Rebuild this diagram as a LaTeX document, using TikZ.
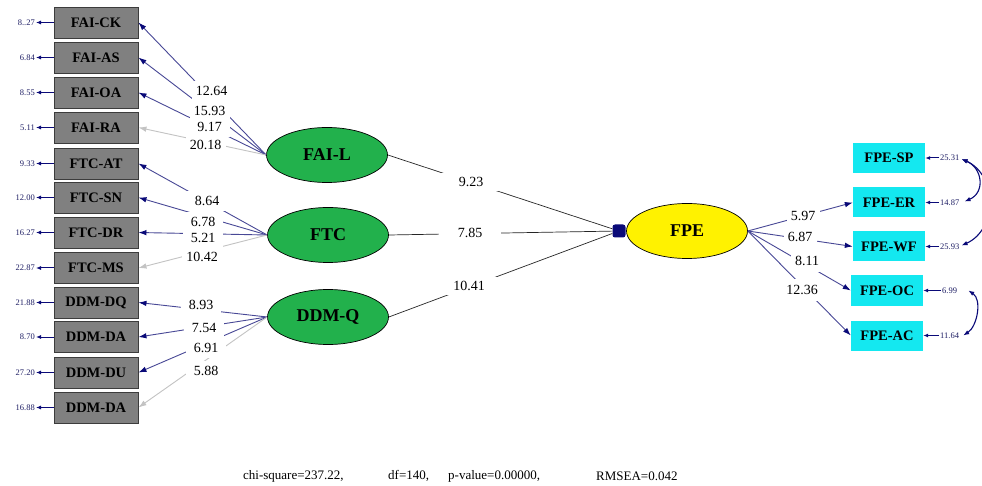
\documentclass[tikz,border=0pt]{standalone}
\usepackage{fontspec}
\setmainfont{Liberation Serif}
\usetikzlibrary{arrows.meta,shapes.geometric}

\definecolor{boxgray}{RGB}{128,128,128}
\definecolor{edgegray}{RGB}{60,60,60}
\definecolor{latgreen}{RGB}{34,177,76}
\definecolor{fpecyan}{RGB}{20,232,240}
\definecolor{loadblue}{RGB}{72,72,150}
\definecolor{tipnavy}{RGB}{10,10,120}
\definecolor{refgray}{RGB}{195,195,195}
\definecolor{errtext}{RGB}{30,30,100}

\begin{document}
\begin{tikzpicture}[x=1pt,y=-1pt,
  obs/.style={rectangle, fill=boxgray, draw=edgegray, line width=0.9pt,
    minimum width=84pt, minimum height=31pt, inner sep=0pt,
    font=\fontsize{14.5}{16}\selectfont\bfseries},
  fpeobs/.style={rectangle, fill=fpecyan, minimum width=72pt, minimum height=30pt,
    inner sep=0pt, font=\fontsize{14.5}{16}\selectfont\bfseries},
  latent/.style={ellipse, fill=latgreen, draw=black, line width=0.7pt,
    minimum width=121pt, minimum height=55pt, inner sep=0pt,
    font=\fontsize{18}{20}\selectfont\bfseries},
  load/.style={draw=loadblue, line width=0.9pt, -{Latex[length=8pt,width=5.5pt,color=tipnavy]}},
  refload/.style={draw=refgray, line width=0.9pt, -{Latex[length=8pt,width=5.5pt]}},
  structline/.style={draw=black!85, line width=0.7pt},
  % coefficient labels blank out the part of the line they sit on
  coef/.style={fill=white, inner sep=0pt, font=\fontsize{14}{16}\selectfont},
  lcoef/.style={coef, minimum width=40pt, minimum height=20pt},
  mcoef/.style={coef, minimum width=62pt, minimum height=18pt},
  rcoef/.style={coef, minimum width=33pt, minimum height=22pt},
  errl/.style={anchor=east, inner sep=1pt, text=errtext, font=\fontsize{8.5}{9}\selectfont},
  errr/.style={anchor=west, inner sep=1pt, text=errtext, font=\fontsize{8.5}{9}\selectfont},
  errarrow/.style={draw=tipnavy, line width=1pt, -{Latex[length=5pt,width=4pt]}},
  corr/.style={draw=tipnavy, line width=1.1pt,
    {Latex[length=6pt,width=4.5pt]}-{Latex[length=6pt,width=4.5pt]}},
  fitstat/.style={anchor=west, inner sep=0pt, font=\fontsize{13}{14}\selectfont},
]
\useasboundingbox[fill=white] (0,0) rectangle (982,486);

% observed indicators, left column
\node[obs] (fck)  at (96,22.5)  {FAI-CK};
\node[obs] (fas)  at (96,57.5)  {FAI-AS};
\node[obs] (foa)  at (96,92.5)  {FAI-OA};
\node[obs] (fra)  at (96,127.5) {FAI-RA};
\node[obs] (tat)  at (96,163.5) {FTC-AT};
\node[obs] (tsn)  at (96,197.5) {FTC-SN};
\node[obs] (tdr)  at (96,232.5) {FTC-DR};
\node[obs] (tms)  at (96,268)   {FTC-MS};
\node[obs] (ddq)  at (96,302.5) {DDM-DQ};
\node[obs] (dda)  at (96,337)   {DDM-DA};
\node[obs] (ddu)  at (96,372.5) {DDM-DU};
\node[obs] (dda2) at (96,407.5) {DDM-DA};

% error variances, left column
\node[errl] (efck)  at (36,22.5)  {8..27};
\node[errl] (efas)  at (36,57.5)  {6.84};
\node[errl] (efoa)  at (36,92.5)  {8.55};
\node[errl] (efra)  at (36,127.5) {5.11};
\node[errl] (etat)  at (36,163.5) {9.33};
\node[errl] (etsn)  at (36,197.5) {12.00};
\node[errl] (etdr)  at (36,232.5) {16.27};
\node[errl] (etms)  at (36,268)   {22.87};
\node[errl] (eddq)  at (36,302.5) {21.88};
\node[errl] (edda)  at (36,337)   {8.70};
\node[errl] (eddu)  at (36,372.5) {27.20};
\node[errl] (edda2) at (36,407.5) {16.88};
\foreach \b in {fck,fas,foa,fra,tat,tsn,tdr,tms,ddq,dda,ddu,dda2}
  \draw[errarrow] (\b.west) -- (e\b.east);

% latent variables
\node[latent] (fail) at (327,155) {FAI-L};
\node[latent] (ftc)  at (328,235) {FTC};
\node[latent] (ddmq) at (328,317) {DDM-Q};
\node[latent, fill=yellow] (fpe) at (687,231) {FPE};
\node[rectangle, fill=tipnavy, rounded corners=2.5pt, minimum width=13pt,
      minimum height=13pt, inner sep=0pt] (jn) at (619,231) {};

% right column indicators
\node[fpeobs] (sp) at (889,158)   {FPE-SP};
\node[fpeobs] (er) at (889,202.5) {FPE-ER};
\node[fpeobs] (wf) at (889,246.5) {FPE-WF};
\node[fpeobs] (oc) at (887,290.5) {FPE-OC};
\node[fpeobs] (ac) at (887,335.5) {FPE-AC};

\node[errr] (esp) at (939,158)   {25.31};
\node[errr] (eer) at (939,202.5) {14.87};
\node[errr] (ewf) at (939,246.5) {25.93};
\node[errr] (eoc) at (941,290.5) {6.99};
\node[errr] (eac) at (939,335.5) {11.64};
\foreach \b in {sp,er,wf,oc,ac}
  \draw[errarrow] (e\b.west) -- (\b.east);

% loadings
\draw[load]    (fail.west) -- (fck.east);
\draw[load]    (fail.west) -- (fas.east);
\draw[load]    (fail.west) -- (foa.east);
\draw[refload] (fail.west) -- (fra.east);
\draw[load]    (ftc.west) -- (tat.east);
\draw[load]    (ftc.west) -- (tsn.east);
\draw[load]    (ftc.west) -- (tdr.east);
\draw[refload] (ftc.west) -- (tms.east);
\draw[load]    (ddmq.west) -- (ddq.east);
\draw[load]    (ddmq.west) -- (dda.east);
\draw[load]    (ddmq.west) -- (ddu.east);
\draw[refload] (ddmq.west) -- (dda2.east);
\draw[load] (fpe.east) -- (er.west);
\draw[load] (fpe.east) -- (wf.west);
\draw[load] (fpe.east) -- (oc.west);
\draw[load] (fpe.east) -- (ac.west);

% structural paths
\draw[structline] (fail.east) -- (jn);
\draw[structline] (ftc.east)  -- (jn);
\draw[structline] (ddmq.east) -- (jn);

% coefficients
\node[lcoef] (c1)  at (211.5,91)  {12.64};
\node[lcoef] (c2)  at (209.5,111) {15.93};
\node[lcoef] (c3)  at (209.5,127) {9.17};
\node[lcoef] (c4)  at (205.5,145) {20.18};
\node[lcoef] (c5)  at (207,201)   {8.64};
\node[lcoef] (c6)  at (203,222)   {6.78};
\node[lcoef] (c7)  at (203,238)   {5.21};
\node[lcoef] (c8)  at (202,257)   {10.42};
\node[lcoef] (c9)  at (201,305)   {8.93};
\node[lcoef] (c10) at (204,328)   {7.54};
\node[lcoef] (c11) at (206,348)   {6.91};
\node[lcoef] (c12) at (206,371)   {5.88};
\node[mcoef] (c13) at (471,182)   {9.23};
\node[mcoef] (c14) at (470,233)   {7.85};
\node[mcoef] (c15) at (469,286)   {10.41};
\node[rcoef] (c16) at (803,216)   {5.97};
\node[rcoef] (c17) at (800,237)   {6.87};
\node[rcoef] (c18) at (807,261)   {8.11};
\node[rcoef] (c19) at (802,290)   {12.36};

% error covariances
\begin{scope}
  \clip (0,0) rectangle (982,486);
  \draw[corr] ([xshift=1pt,yshift=-1pt]esp.east) .. controls +(21,9) and +(21,-9) .. ([xshift=4pt,yshift=1pt]eer.east);
  \draw[corr] ([xshift=1pt,yshift=-1pt]esp.east) .. controls +(36,16) and +(36,-16) .. ([xshift=1pt,yshift=1pt]ewf.east);
  \draw[corr] ([xshift=10pt]eoc.east) .. controls +(14,9) and +(14,-9) .. ([xshift=3pt]eac.east);
\end{scope}

% fit statistics
\node[fitstat] (chi)  at (243,476) {chi-square=237.22,};
\node[fitstat] (dfv)  at (388,476) {df=140,};
\node[fitstat] (pv)   at (448,476) {p-value=0.00000,};
\node[fitstat] (rm)   at (596,476) {RMSEA=0.042};
\end{tikzpicture}
\end{document}
